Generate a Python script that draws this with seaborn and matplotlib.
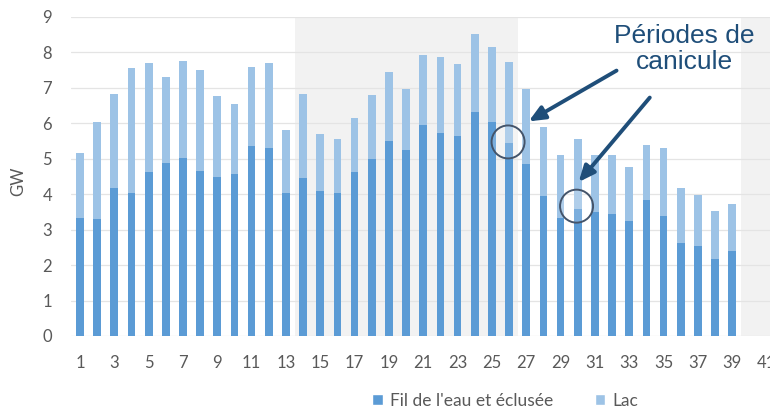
import numpy as np
import pandas as pd
import matplotlib
matplotlib.use("Agg")
import matplotlib.pyplot as plt
from matplotlib.patches import Patch, Ellipse
import seaborn as sns

# Weekly hydro generation (GW)
weeks = list(range(1, 40))
fil_eau = [3.34, 3.30, 4.16, 4.04, 4.63, 4.88, 5.02, 4.65, 4.47, 4.56,
           5.35, 5.30, 4.02, 4.46, 4.09, 4.02, 4.61, 4.99, 5.49, 5.24,
           5.94, 5.71, 5.65, 6.30, 6.03, 5.43, 4.84, 3.94, 3.33, 3.57,
           3.50, 3.43, 3.24, 3.82, 3.39, 2.63, 2.53, 2.16, 2.39]
lac = [1.81, 2.73, 2.66, 3.50, 3.07, 2.43, 2.73, 2.84, 2.29, 1.99,
       2.23, 2.40, 1.78, 2.35, 1.60, 1.53, 1.54, 1.80, 1.94, 1.73,
       1.98, 2.16, 2.01, 2.21, 2.13, 2.29, 2.11, 1.95, 1.76, 1.97,
       1.60, 1.66, 1.51, 1.56, 1.90, 1.55, 1.44, 1.36, 1.33]
tick_labels = [str(w) for w in range(1, 42, 2)]
series_names = ["Fil de l'eau et éclusée", "Lac"]

df = pd.DataFrame({"semaine": weeks, "fil": fil_eau, "lac": lac})
df["total"] = df["fil"] + df["lac"]

sns.set_theme(style="white")
plt.rcParams["font.family"] = ["Lato", "DejaVu Sans"]

dark = "#5B9BD5"
light = "#9DC3E6"
grey_txt = "#595959"
navy = "#1F4E79"

W, H = 770, 409
fig = plt.figure(figsize=(W / 100, H / 100), dpi=100)
x0, x1 = 71.4, 770.0
y_top, y_bot = 16.7, 336.0
ax = fig.add_axes([x0 / W, 1 - y_bot / H, (x1 - x0) / W, (y_bot - y_top) / H])

# shaded periods
ax.axvspan(13.5, 26.5, color="#F2F2F2", zorder=0, lw=0)
ax.axvspan(39.5, 45, color="#F2F2F2", zorder=0, lw=0)

# stacked bars: total in light, run-of-river on top in dark
sns.barplot(data=df, x="semaine", y="total", native_scale=True, color=light,
            saturation=1, width=0.45, ax=ax, zorder=2, linewidth=0)
sns.barplot(data=df, x="semaine", y="fil", native_scale=True, color=dark,
            saturation=1, width=0.45, ax=ax, zorder=3, linewidth=0)

ax.set_xlim(0.5, 41.2)
ax.set_ylim(0, 9)
ax.set_yticks(range(0, 10))
ax.set_xticks(range(1, 42, 2))
ax.set_xticklabels(tick_labels)
ax.yaxis.grid(True, color="#E4E4E4", lw=0.9, zorder=1)
ax.set_axisbelow(True)
for s in ax.spines.values():
    s.set_visible(False)
ax.tick_params(axis="both", length=0, labelsize=12, colors=grey_txt)
ax.tick_params(axis="x", pad=14)
ax.tick_params(axis="y", pad=14)
ax.set_xlabel("")
ax.set_ylabel("GW", fontsize=12, color=grey_txt)
ax.yaxis.set_label_coords(-0.064, 0.485)

# heatwave highlights
for cx, cy in [(25.94, 5.47), (29.93, 3.66)]:
    ax.add_patch(Ellipse((cx, cy), width=33 / 17.16, height=33 / 35.5,
                         facecolor=(1, 1, 1, 0.2), edgecolor="#44546A",
                         lw=1.4, zorder=5))

ax.annotate("", xy=(27.0, 6.01), xytext=(32.4, 7.52),
            arrowprops=dict(arrowstyle="-|>,head_length=0.8,head_width=0.35",
                            color=navy, lw=2.8), zorder=6)
ax.annotate("", xy=(29.95, 4.28), xytext=(34.3, 6.78),
            arrowprops=dict(arrowstyle="-|>,head_length=0.8,head_width=0.35",
                            color=navy, lw=2.8), zorder=6)
fig.text(684 / W, 1 - 49 / H, "Périodes de\ncanicule", ha="center", va="center",
         fontsize=19, color=navy, family=["Liberation Sans", "DejaVu Sans"],
         linespacing=1.15)

handles = [Patch(facecolor=dark, label=series_names[0]),
           Patch(facecolor=light, label=series_names[1])]
fig.legend(handles=handles, loc="center", bbox_to_anchor=(505 / W, 1 - 401 / H),
           ncol=2, frameon=False, fontsize=12.5, handlelength=0.6,
           handleheight=0.6, handletextpad=0.4, columnspacing=2.4,
           labelcolor=grey_txt)

fig.savefig("out.png", dpi=100)
